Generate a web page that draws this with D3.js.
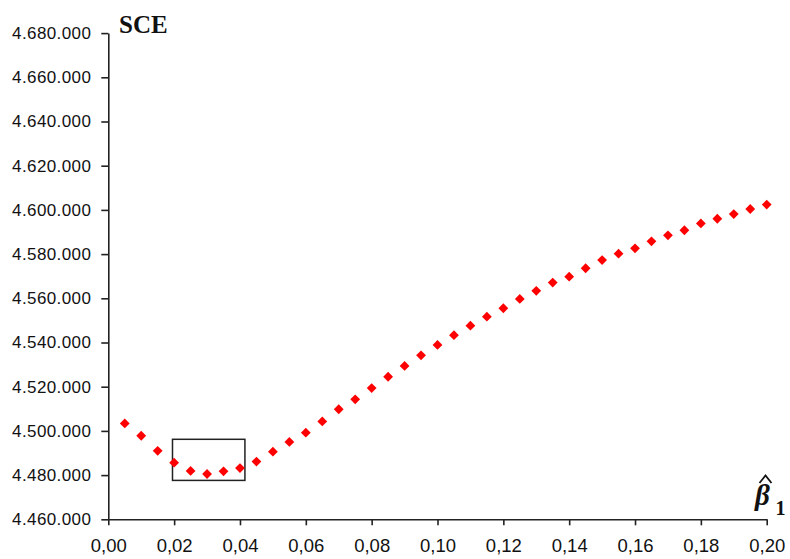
<!DOCTYPE html>
<html>
<head>
<meta charset="utf-8">
<script src="https://cdn.jsdelivr.net/npm/d3@7"></script>
<style>
  html, body { margin: 0; padding: 0; background: #fff; }
  svg { display: block; }
</style>
</head>
<body>
<svg id="chart" width="790" height="559"></svg>
<script>
// ---- data ----
const betaValues = [0.005,0.010,0.015,0.020,0.025,0.030,0.035,0.040,0.045,0.050,
                    0.055,0.060,0.065,0.070,0.075,0.080,0.085,0.090,0.095,0.100,
                    0.105,0.110,0.115,0.120,0.125,0.130,0.135,0.140,0.145,0.150,
                    0.155,0.160,0.165,0.170,0.175,0.180,0.185,0.190,0.195,0.200];
const sceValues = [4503400,4497800,4491000,4485600,4481900,4480500,4481700,4483200,4486100,4490600,
                   4495000,4499200,4504300,4509800,4514300,4519400,4524500,4529400,4534200,4538900,
                   4543300,4547600,4551700,4555500,4559700,4563400,4567100,4569800,4573600,4577300,
                   4580200,4582600,4585800,4588500,4590800,4593900,4596000,4598100,4600400,4602400];
const xTicks = [0,0.02,0.04,0.06,0.08,0.10,0.12,0.14,0.16,0.18,0.20];
const yTicks = [4460000,4480000,4500000,4520000,4540000,4560000,4580000,4600000,4620000,4640000,4660000,4680000];
const highlightBox = { x0: 0.0195, x1: 0.0415, y0: 4477600, y1: 4496200 };
const yTitle = "SCE";

// ---- layout ----
const svg = d3.select("#chart");
const x = d3.scaleLinear().domain([0, 0.2]).range([108.3, 766.7]);
const y = d3.scaleLinear().domain([4460000, 4680000]).range([519.3, 33.1]);

const loc = d3.formatLocale({ decimal: ",", thousands: ".", grouping: [3], currency: ["", ""] });
const fy = loc.format(",.0f");
const fx = loc.format(".2f");

const axisColor = "#222";

// y axis
const gy = svg.append("g").attr("transform", `translate(${x(0)},0)`)
  .call(d3.axisLeft(y).tickValues(yTicks).tickFormat(fy).tickSize(7).tickSizeOuter(0).tickPadding(10));
gy.select(".domain").attr("stroke", axisColor).attr("stroke-width", 1.6);
gy.selectAll(".tick line").attr("stroke", axisColor).attr("stroke-width", 1.6);
gy.selectAll(".tick text")
  .attr("font-family", "'Liberation Sans', Arial, sans-serif")
  .attr("font-size", 17).attr("letter-spacing", 0.4).attr("fill", "#111");

// x axis
const gx = svg.append("g").attr("transform", `translate(0,${y(4460000)})`)
  .call(d3.axisBottom(x).tickValues(xTicks).tickFormat(fx).tickSize(6).tickSizeOuter(0).tickPadding(14));
gx.select(".domain").attr("stroke", axisColor).attr("stroke-width", 1.6);
gx.selectAll(".tick line").attr("stroke", axisColor).attr("stroke-width", 1.6);
gx.selectAll(".tick text")
  .attr("font-family", "'Liberation Sans', Arial, sans-serif")
  .attr("font-size", 18.5).attr("fill", "#111");

// highlight box
svg.append("rect")
  .attr("x", x(highlightBox.x0)).attr("y", y(highlightBox.y1))
  .attr("width", x(highlightBox.x1) - x(highlightBox.x0))
  .attr("height", y(highlightBox.y0) - y(highlightBox.y1))
  .attr("fill", "none").attr("stroke", "#222").attr("stroke-width", 1.5);

// markers (red diamonds)
svg.append("g").selectAll("path")
  .data(betaValues.map((b, i) => [b, sceValues[i]]))
  .join("path")
  .attr("d", d3.symbol().type(d3.symbolSquare).size(48))
  .attr("transform", d => `translate(${x(d[0])},${y(d[1])}) rotate(45)`)
  .attr("fill", "#ff0000");

// titles
svg.append("text").attr("x", 119).attr("y", 33)
  .attr("font-family", "'Liberation Serif', 'Times New Roman', serif")
  .attr("font-weight", "bold").attr("font-size", 25).attr("fill", "#111")
  .text(yTitle);

// beta-hat-1 label
svg.append("text").attr("x", 755).attr("y", 505)
  .attr("font-family", "'Liberation Serif', 'Times New Roman', serif")
  .attr("font-style", "italic").attr("font-weight", "bold").attr("font-size", 29).attr("fill", "#111")
  .text("β");
svg.append("path").attr("d", "M759.5,483 L765.5,475.5 L771.5,483")
  .attr("fill", "none").attr("stroke", "#111").attr("stroke-width", 1.8);
svg.append("text").attr("x", 775.5).attr("y", 515)
  .attr("font-family", "'Liberation Serif', 'Times New Roman', serif")
  .attr("font-weight", "bold").attr("font-size", 20).attr("fill", "#111")
  .text("1");
</script>
</body>
</html>
